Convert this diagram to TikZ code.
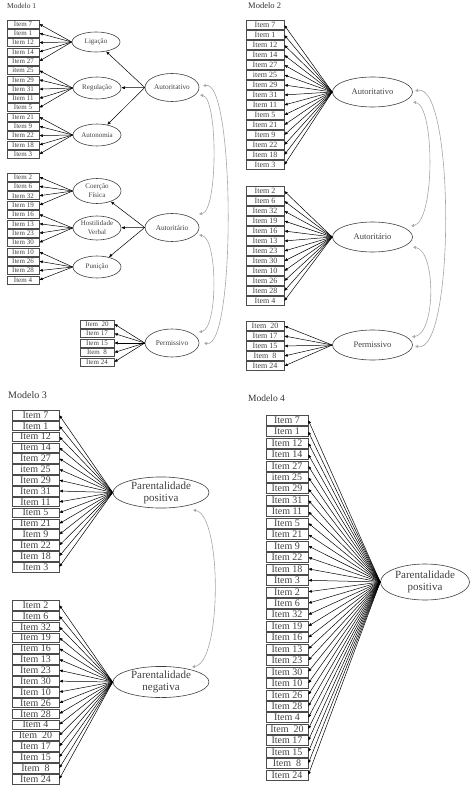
\documentclass[tikz,border=0pt]{standalone}
\usepackage{fontspec}
\setmainfont{Liberation Serif}
\usetikzlibrary{arrows.meta,shapes.geometric}

\begin{document}
\begin{tikzpicture}[x=1pt, y=-1pt]
\useasboundingbox (0,0) rectangle (474,794);
\tikzstyle{itm} = [draw=black!70, text=black!75, inner sep=0pt, line width=0.5pt]
\tikzstyle{lat} = [ellipse, draw=black!75, text=black!75, inner sep=0pt, align=center, line width=0.6pt]
\tikzstyle{ld} = [-{Latex[length=3.5pt,width=3pt]}, line width=0.5pt]
\tikzstyle{cov} = [{Triangle[length=3pt,width=2.8pt]}-{Triangle[length=3pt,width=2.8pt]}, draw=black!35, line width=0.6pt]
\tikzstyle{ttl} = [anchor=west, inner sep=0pt, text=black!80]

% Modelo 1
\node[ttl, font=\fontsize{7.5}{9}\selectfont] (t1) at (7,6) {Modelo 1};
\tikzstyle{it1} = [itm, minimum width=32, minimum height=8, font=\fontsize{7}{8}\selectfont]
\tikzstyle{sub1} = [lat, minimum width=48, minimum height=22, font=\fontsize{7}{9}\selectfont]
\tikzstyle{fac1} = [lat, minimum width=54, minimum height=28, font=\fontsize{7.3}{9}\selectfont]
\node[fac1] (atv1) at (172,87.5) {Autoritativo};
\node[fac1] (ati1) at (172,227.5) {Autoritário};
\node[fac1] (per1) at (172,343) {Permissivo};
\node[sub1, minimum height=20] (lig) at (96,42) {Ligação};
\node[sub1] (reg) at (97,88) {Regulação};
\node[sub1] (aun) at (97,135) {Autonomia};
\node[sub1, minimum height=25] (coe) at (97,191) {Coerção\\Física};
\node[sub1, minimum height=24] (hos) at (97,228) {Hostilidade\\Verbal};
\node[sub1] (pun) at (97,267) {Punição};
\foreach \f in {lig,reg,aun} \draw[ld] (atv1.west) -- (\f);
\foreach \f in {coe,hos,pun} \draw[ld] (ati1.west) -- (\f);
\foreach \lab [count=\k] in {Item 7,Item 1,Item 12,Item 14,Item 27} {
  \node[it1] (lig\k) at (23,{24+9.3*(\k-1)}) {\lab};
  \draw[ld] (lig.west) -- (lig\k.east);
}
\foreach \lab [count=\k] in {item 25,Item 29,Item 31,Item 11,Item 5} {
  \node[it1] (reg\k) at (23,{70.5+9.3*(\k-1)}) {\lab};
  \draw[ld] (reg.west) -- (reg\k.east);
}
\foreach \lab [count=\k] in {Item 21,Item 9,Item 22,Item 18,Item 3} {
  \node[it1] (aun\k) at (23,{117+9.3*(\k-1)}) {\lab};
  \draw[ld] (aun.west) -- (aun\k.east);
}
\foreach \lab [count=\k] in {Item 2,Item 6,Item 32,Item 19} {
  \node[it1] (coe\k) at (23,{177+9.36*(\k-1)}) {\lab};
  \draw[ld] (coe.west) -- (coe\k.east);
}
\foreach \lab [count=\k] in {Item 16,Item 13,Item 23,Item 30} {
  \node[it1] (hos\k) at (23,{214.4+9.36*(\k-1)}) {\lab};
  \draw[ld] (hos.west) -- (hos\k.east);
}
\foreach \lab [count=\k] in {Item 10,Item 26,Item 28,Item 4} {
  \node[it1] (pun\k) at (23,{251.9+9.36*(\k-1)}) {\lab};
  \draw[ld] (pun.west) -- (pun\k.east);
}
\foreach \lab [count=\k] in {Item~~20,Item 17,Item 15,Item~~8,Item 24} {
  \node[it1, minimum width=34] (pa\k) at (97,{324+9.5*(\k-1)}) {\lab};
  \draw[ld] (per1.west) -- (pa\k.east);
}
\draw[cov] ([shift={(31,-1.5)}]atv1.center) .. controls +(32,-7) and +(32,6) .. ([shift={(32,0)}]per1.center);
\draw[cov] ([shift={(28,7.5)}]atv1.center) .. controls +(18,3) and +(19,-2) .. ([shift={(27,-13.5)}]ati1.center);
\draw[cov] ([shift={(27,7.5)}]ati1.center) .. controls +(19,3) and +(19,-3) .. ([shift={(27,-11)}]per1.center);

% Modelo 2
\node[ttl, font=\fontsize{8.5}{10}\selectfont] (t2) at (248,6) {Modelo 2};
\tikzstyle{it2} = [itm, minimum width=38, minimum height=9, font=\fontsize{8}{9}\selectfont]
\tikzstyle{fac2} = [lat, minimum width=80, minimum height=30, font=\fontsize{8.5}{10}\selectfont]
\node[fac2] (atv2) at (372.5,92) {Autoritativo};
\node[fac2] (ati2) at (372.5,237) {Autoritário};
\node[fac2] (per2) at (372.5,345) {Permissivo};
\foreach \lab [count=\k] in {Item 7,Item 1,Item 12,Item 14,Item 27,item 25,Item 29,Item 31,Item 11,Item 5,Item 21,Item 9,Item 22,Item 18,Item 3} {
  \node[it2] (va\k) at (265,{25+10*(\k-1)}) {\lab};
  \draw[ld] (atv2.west) -- (va\k.east);
}
\foreach \lab [count=\k] in {Item 2,Item 6,Item 32,Item 19,Item 16,Item 13,Item 23,Item 30,Item 10,Item 26,Item 28,Item 4} {
  \node[it2] (vb\k) at (265,{191+10*(\k-1)}) {\lab};
  \draw[ld] (ati2.west) -- (vb\k.east);
}
\foreach \lab [count=\k] in {Item~~20,Item 17,Item 15,Item~~8,Item 24} {
  \node[it2] (vc\k) at (265,{326+10*(\k-1)}) {\lab};
  \draw[ld] (per2.west) -- (vc\k.east);
}
\draw[cov] ([shift={(42.5,-1)}]atv2.center) .. controls +(40,-9) and +(40,9) .. ([shift={(42.5,1)}]per2.center);
\draw[cov] ([shift={(40.5,10)}]atv2.center) .. controls +(22,4) and +(24,-4) .. ([shift={(38.5,-11)}]ati2.center);
\draw[cov] ([shift={(40.5,10)}]ati2.center) .. controls +(23,4) and +(24,-4) .. ([shift={(39.5,-8)}]per2.center);

% Modelo 3
\node[ttl, font=\fontsize{10}{12}\selectfont] (t3) at (8,395) {Modelo 3};
\tikzstyle{it3} = [itm, minimum width=47, minimum height=9.5, font=\fontsize{10}{11}\selectfont]
\tikzstyle{fac3} = [lat, minimum width=96, minimum height=31, font=\fontsize{11}{12}\selectfont]
\node[fac3] (pos3) at (161,492.5) {Parentalidade\\positiva};
\node[fac3] (neg3) at (161,682) {Parentalidade\\negativa};
\foreach \lab [count=\k] in {Item 7,Item 1,Item 12,Item 14,Item 27,item 25,Item 29,Item 31,Item 11,Item 5,Item 21,Item 9,Item 22,Item 18,Item 3} {
  \node[it3] (pa\k) at (35.5,{415+10.86*(\k-1)}) {\lab};
  \draw[ld] (pos3.west) -- (pa\k.east);
}
\foreach \lab [count=\k] in {Item 2,Item 6,Item 32,Item 19,Item 16,Item 13,Item 23,Item 30,Item 10,Item 26,Item 28,Item 4,Item~~20,Item 17,Item 15,Item~~8,Item 24} {
  \node[it3] (na\k) at (35.5,{605+10.875*(\k-1)}) {\lab};
  \draw[ld] (neg3.west) -- (na\k.east);
}
\draw[cov] ([shift={(32,17.5)}]pos3.center) .. controls +(29,5) and +(30,-5) .. ([shift={(31,-15)}]neg3.center);

% Modelo 4
\node[ttl, font=\fontsize{9.5}{11}\selectfont] (t4) at (248,398) {Modelo 4};
\tikzstyle{it4} = [itm, minimum width=42, minimum height=10, font=\fontsize{10}{11}\selectfont]
\node[lat, minimum width=89, minimum height=36, font=\fontsize{11}{12}\selectfont] (pos4) at (425,582) {Parentalidade\\positiva};
\foreach \lab [count=\k] in {Item 7,Item 1,Item 12,Item 14,Item 27,item 25,Item 29,Item 31,Item 11,Item 5,Item 21,Item 9,Item 22,Item 18,Item 3,Item 2,Item 6,Item 32,Item 19,Item 16,Item 13,Item 23,Item 30,Item 10,Item 26,Item 28,Item 4,Item~~20,Item 17,Item 15,Item~~8,Item 24} {
  \node[it4] (ta\k) at (287,{420+11.45*(\k-1)}) {\lab};
  \draw[ld] (pos4.west) -- (ta\k.east);
}
\end{tikzpicture}
\end{document}
